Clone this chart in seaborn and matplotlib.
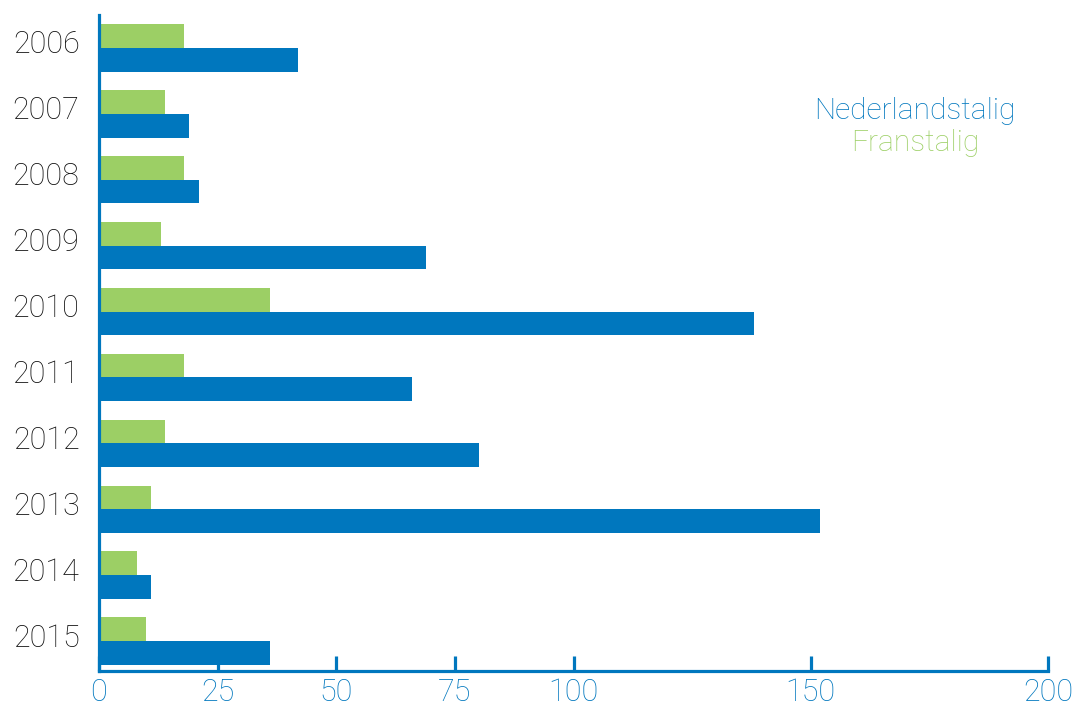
import matplotlib
matplotlib.use("Agg")
import matplotlib.pyplot as plt
import matplotlib.transforms as mtransforms
import seaborn as sns
import pandas as pd

years = ["2006", "2007", "2008", "2009", "2010", "2011", "2012", "2013", "2014", "2015"]
nederlandstalig = [42, 19, 21, 69, 138, 66, 80, 152, 11, 36]
franstalig = [18, 14, 18, 13, 36, 18, 14, 11, 8, 10]
xticks = [0, 25, 50, 75, 100, 150, 200]

BLUE = "#0077BE"
GREEN = "#9CCF65"

df = pd.DataFrame({
    "jaar": years * 2,
    "aantal": franstalig + nederlandstalig,
    "taal": ["Franstalig"] * len(years) + ["Nederlandstalig"] * len(years),
})

sns.set_style("white")
plt.rcParams["font.family"] = ["Roboto", "DejaVu Sans"]

fig = plt.figure(figsize=(10.77, 7.07), dpi=100)
ax = fig.add_axes([99 / 1077, 36 / 707, (1048 - 99) / 1077, (671 - 15) / 707])

sns.barplot(data=df, y="jaar", x="aantal", hue="taal",
            hue_order=["Franstalig", "Nederlandstalig"],
            palette={"Franstalig": GREEN, "Nederlandstalig": BLUE},
            orient="h", width=0.72, saturation=1, legend=False, ax=ax,
            linewidth=0, edgecolor="none")

ax.set_xlim(0, 200)
ax.set_ylim(9.455, -0.5)
ax.set_xticks(xticks)
ax.set_xticklabels([str(t) for t in xticks])
ax.set_xlabel("")
ax.set_ylabel("")

for s in ["top", "right"]:
    ax.spines[s].set_visible(False)
for s in ["left", "bottom"]:
    ax.spines[s].set_color(BLUE)
    ax.spines[s].set_linewidth(2.3)
    ax.spines[s].set_zorder(5)

ax.tick_params(axis="x", bottom=True, direction="in", length=11, width=2.3, color=BLUE,
               labelcolor=BLUE, labelsize=22, pad=5)
ax.tick_params(axis="y", left=False, length=0, labelcolor="#111111", labelsize=22, pad=14)

offset = mtransforms.ScaledTranslation(0, 6 / 100, fig.dpi_scale_trans)
for lab in ax.get_yticklabels():
    lab.set_transform(lab.get_transform() + offset)
for lab in ax.get_xticklabels() + ax.get_yticklabels():
    lab.set_fontweight("light")

ax.text(0.86, 0.8537, "Nederlandstalig", transform=ax.transAxes, ha="center", va="center",
        color=BLUE, fontsize=21.5, fontweight="light")
ax.text(0.86, 0.805, "Franstalig", transform=ax.transAxes, ha="center", va="center",
        color=GREEN, fontsize=21.5, fontweight="light")

fig.savefig("out.png", dpi=100)
